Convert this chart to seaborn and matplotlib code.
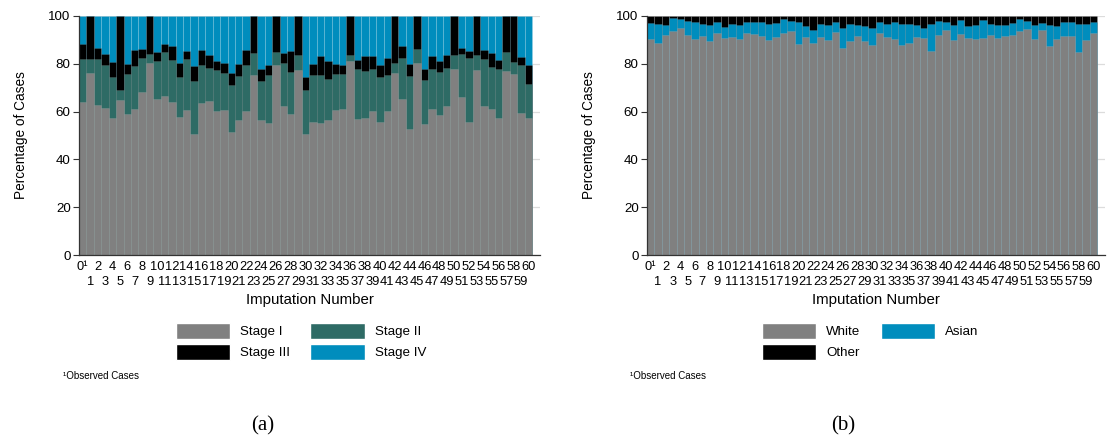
import numpy as np
import pandas as pd
import matplotlib
matplotlib.use("Agg")
import matplotlib.pyplot as plt
from matplotlib.patches import Patch
import seaborn as sns

# ---------------- data ----------------
imputations = [str(i) for i in range(61)]

stage_i = [64.0, 76.2, 62.9, 61.5, 57.5, 65.0, 58.9, 61.1, 68.2, 80.2,
           65.4, 66.4, 64.0, 57.7, 60.7, 50.6, 63.6, 64.3, 60.4, 60.8,
           51.5, 56.3, 60.3, 75.5, 56.3, 55.2, 79.4, 62.3, 59.1, 77.3,
           50.8, 55.6, 55.4, 56.3, 60.7, 61.2, 81.0, 57.0, 57.3, 60.1,
           55.6, 60.3, 76.3, 65.4, 52.9, 80.3, 55.0, 60.9, 58.7, 62.3,
           77.7, 66.1, 55.6, 77.5, 62.3, 60.9, 57.3, 76.8, 75.9, 59.6, 57.3]
stage_ii = [18.1, 5.9, 19.0, 18.1, 17.0, 3.9, 16.8, 18.0, 14.2, 3.9,
            15.8, 18.7, 17.5, 16.8, 21.3, 22.2, 15.8, 13.9, 16.9, 15.4,
            19.5, 18.6, 19.1, 9.0, 16.5, 20.3, 5.5, 18.0, 17.5, 6.2,
            18.4, 19.6, 20.1, 17.5, 15.2, 14.5, 2.8, 20.7, 19.7, 17.9,
            18.9, 15.2, 4.2, 17.2, 22.0, 5.8, 18.4, 17.1, 17.9, 15.9,
            6.1, 18.1, 26.8, 6.3, 19.8, 17.8, 20.4, 8.1, 4.9, 19.8, 14.4]
stage_iii = [6.0, 17.9, 4.9, 4.5, 6.3, 31.1, 4.4, 6.8, 3.9, 15.9,
             3.7, 3.3, 5.8, 6.0, 3.4, 6.3, 6.2, 5.6, 4.0, 4.1,
             5.3, 4.9, 6.5, 15.5, 5.2, 4.1, 15.1, 4.4, 8.8, 16.5,
             5.3, 4.9, 7.8, 7.4, 4.2, 3.9, 16.2, 3.8, 6.1, 5.4,
             5.1, 6.9, 19.5, 4.8, 5.2, 13.9, 4.6, 5.1, 4.6, 5.3,
             16.2, 2.6, 3.0, 16.2, 3.5, 5.8, 3.8, 15.1, 19.2, 3.4, 7.7]
stage_iv = [11.9, 0.0, 13.2, 15.9, 19.2, 0.0, 19.9, 14.1, 13.7, 0.0,
            15.1, 11.6, 12.7, 19.5, 14.6, 20.9, 14.4, 16.2, 18.7, 19.7,
            23.7, 20.2, 14.1, 0.0, 22.0, 20.4, 0.0, 15.3, 14.6, 0.0,
            25.5, 19.9, 16.7, 18.8, 19.9, 20.4, 0.0, 18.5, 16.9, 16.6,
            20.4, 17.6, 0.0, 12.6, 19.9, 0.0, 22.0, 16.9, 18.8, 16.5,
            0.0, 13.2, 14.6, 0.0, 14.4, 15.5, 18.5, 0.0, 0.0, 17.2, 20.6]

white = [90.5, 88.8, 92.2, 93.6, 95.1, 91.9, 90.5, 91.6, 89.4, 92.9,
         90.8, 91.2, 90.5, 93.0, 92.6, 91.6, 90.1, 91.2, 93.0, 93.6,
         88.4, 91.2, 88.8, 91.2, 90.1, 93.3, 86.6, 89.5, 91.6, 89.4,
         87.7, 92.9, 91.2, 90.5, 88.0, 88.8, 91.2, 90.9, 85.2, 91.9,
         94.0, 89.8, 92.6, 90.8, 90.5, 90.8, 92.2, 90.8, 91.5, 92.2,
         93.7, 94.4, 90.5, 94.0, 87.3, 90.5, 91.6, 91.6, 84.9, 89.8, 93.0]
asian = [6.7, 8.0, 4.2, 5.6, 3.5, 5.9, 7.0, 5.2, 7.0, 4.6,
         4.6, 5.6, 5.9, 4.5, 4.9, 5.9, 6.7, 5.9, 5.6, 4.2,
         9.1, 4.6, 5.2, 5.6, 6.3, 4.2, 8.5, 7.3, 4.5, 6.3,
         7.4, 4.6, 5.6, 7.0, 8.8, 7.7, 5.2, 4.2, 11.6, 5.9,
         3.5, 6.6, 5.6, 5.0, 5.9, 7.4, 4.6, 5.3, 4.9, 4.9,
         4.9, 3.4, 5.9, 3.2, 9.1, 5.3, 5.9, 5.9, 11.9, 6.7, 4.5]
other = [2.8, 3.2, 3.6, 0.8, 1.4, 2.2, 2.5, 3.2, 3.6, 2.5,
         4.6, 3.2, 3.6, 2.5, 2.5, 2.5, 3.2, 2.9, 1.4, 2.2,
         2.5, 4.2, 6.0, 3.2, 3.6, 2.5, 4.9, 3.2, 3.9, 4.3,
         4.9, 2.5, 3.2, 2.5, 3.2, 3.5, 3.6, 4.9, 3.2, 2.2,
         2.5, 3.6, 1.8, 4.2, 3.6, 1.8, 3.2, 3.9, 3.6, 2.9,
         1.4, 2.2, 3.6, 2.8, 3.6, 4.2, 2.5, 2.5, 3.2, 3.5, 2.5]

stage_labels = ["Stage I", "Stage II", "Stage III", "Stage IV"]
race_labels = ["White", "Asian", "Other"]

even_labels = ["0\u00b9" if i == 0 else str(i) for i in range(0, 61, 2)]
odd_labels = [str(i) for i in range(1, 61, 2)]

# ---------------- style ----------------
GRAY = "#808080"
GREEN = "#2e6b65"
BLACK = "#000000"
BLUE = "#008dbd"

sns.set_style("white")
plt.rcParams["font.family"] = ["Liberation Sans", "DejaVu Sans"]
plt.rcParams["text.color"] = "black"
plt.rcParams["axes.labelcolor"] = "black"
plt.rcParams["xtick.color"] = "black"
plt.rcParams["ytick.color"] = "black"

fig = plt.figure(figsize=(11.12, 4.46), dpi=100)
W, H = 1112, 446


def ax_rect(x0, x1, y_top, y_bot):
    return [x0 / W, 1 - y_bot / H, (x1 - x0) / W, (y_bot - y_top) / H]


ax_a = fig.add_axes(ax_rect(79, 540, 16, 255))
ax_b = fig.add_axes(ax_rect(647, 1105, 16, 255))


def stacked(ax, layers, colors):
    df = pd.DataFrame({"imp": imputations})
    cum = np.cumsum(np.array(layers), axis=0)
    # draw from the top layer down so that lower layers overlay
    for k in range(len(layers) - 1, -1, -1):
        df["val"] = cum[k]
        sns.barplot(data=df, x="imp", y="val", order=imputations, color=colors[k],
                    saturation=1, width=1.0, ax=ax, errorbar=None,
                    edgecolor=(1, 1, 1, 0.12), linewidth=0.6)


def style_axes(ax):
    ax.set_xlim(-0.5, 61.55)
    ax.set_ylim(0, 100)
    ax.set_yticks([0, 20, 40, 60, 80, 100])
    ax.set_axisbelow(True)
    ax.yaxis.grid(True, color="#dcdcdc", linewidth=0.9)
    ax.xaxis.grid(False)
    for s in ["top", "right"]:
        ax.spines[s].set_visible(False)
    for s in ["left", "bottom"]:
        ax.spines[s].set_color("#333333")
        ax.spines[s].set_linewidth(0.9)
    ax.set_xticks(list(range(0, 61, 2)))
    ax.set_xticklabels(even_labels, fontsize=9.3)
    ax.set_xticks(list(range(1, 61, 2)), minor=True)
    ax.set_xticklabels(odd_labels, minor=True, fontsize=9.3)
    ax.tick_params(axis="x", which="major", length=0, pad=4)
    ax.tick_params(axis="x", which="minor", length=0, pad=15, bottom=True)
    ax.tick_params(axis="y", length=4, width=0.8, color="#333333", labelsize=9.6, pad=2,
                   left=True)
    ax.set_ylabel("Percentage of Cases", fontsize=9.8, labelpad=15)
    ax.set_xlabel("Imputation Number", fontsize=10.8, labelpad=4)


stacked(ax_a, [stage_i, stage_ii, stage_iii, stage_iv], [GRAY, GREEN, BLACK, BLUE])
stacked(ax_b, [white, asian, other], [GRAY, BLUE, BLACK])
style_axes(ax_a)
style_axes(ax_b)

# legends
stage_colors = dict(zip(stage_labels, [GRAY, GREEN, BLACK, BLUE]))
race_colors = dict(zip(race_labels, [GRAY, BLUE, BLACK]))
h_a = [Patch(facecolor=stage_colors[l], label=l) for l in ["Stage I", "Stage III", "Stage II", "Stage IV"]]
h_b = [Patch(facecolor=race_colors[l], label=l) for l in ["White", "Other", "Asian"]]

leg_kw = dict(ncol=2, frameon=False, fontsize=9.6, handlelength=4.1, handleheight=1.5,
              labelspacing=0.35, columnspacing=1.5, handletextpad=0.75, borderpad=0,
              loc="upper left")
fig.legend(handles=h_a, bbox_to_anchor=(169 / W, 1 - 316 / H), **leg_kw)
fig.legend(handles=h_b, bbox_to_anchor=(755 / W, 1 - 316 / H), **leg_kw)

# footnotes
fig.text(63 / W, 1 - 376 / H, "\u00b9Observed Cases", fontsize=7, va="center", ha="left")
fig.text(630 / W, 1 - 376 / H, "\u00b9Observed Cases", fontsize=7, va="center", ha="left")

# panel captions
fig.text(263 / W, 1 - 426 / H, "(a)", fontsize=15, ha="center", va="center",
         family=["Liberation Serif", "DejaVu Serif"])
fig.text(843 / W, 1 - 426 / H, "(b)", fontsize=15, ha="center", va="center",
         family=["Liberation Serif", "DejaVu Serif"])

fig.savefig("out.png", dpi=100)
